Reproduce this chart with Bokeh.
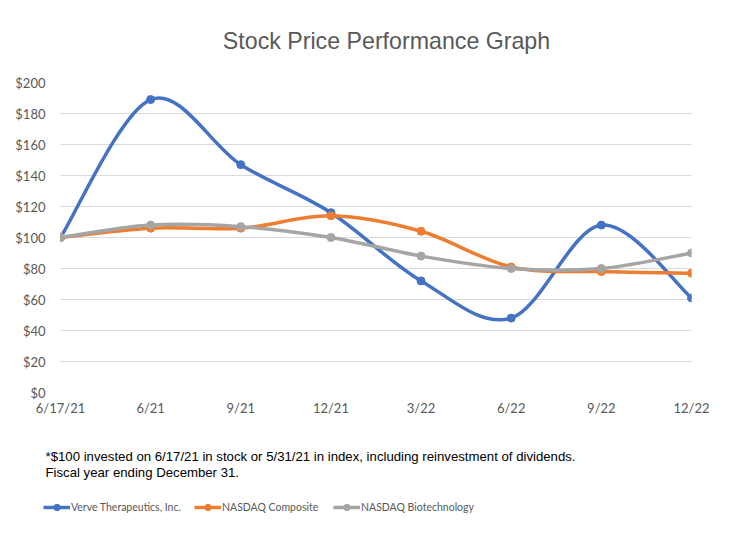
from bokeh.plotting import figure
from bokeh.models import (Range1d, FixedTicker, NumeralTickFormatter, Label,
                          Legend, LegendItem, ColumnDataSource)
from bokeh.embed import file_html
from bokeh.resources import INLINE

dates = ["6/17/21", "6/21", "9/21", "12/21", "3/22", "6/22", "9/22", "12/22"]
verve = [100, 189, 147, 116, 72, 48, 108, 61]
composite = [100, 106, 106, 114, 104, 81, 78, 77]
biotech = [100, 108, 107, 100, 88, 80, 80, 90]

names = ["Verve Therapeutics, Inc.", "NASDAQ Composite", "NASDAQ Biotechnology"]
colors = ["#4472C4", "#ED7D31", "#A5A5A5"]
series = [verve, composite, biotech]

title_text = "Stock Price Performance Graph"
foot_lines = ["*$100 invested on 6/17/21 in stock or 5/31/21 in index, including reinvestment of dividends.",
              "Fiscal year ending December 31."]

GREY = "#595959"
FONT = "Lato"
ARIAL = "Liberation Sans"


def blank(h):
    f = figure(width=713, height=h, output_backend="svg", toolbar_location=None,
               x_range=Range1d(0, 713), y_range=Range1d(h, 0),
               min_border=0, min_border_left=0, min_border_right=0,
               min_border_top=0, min_border_bottom=0)
    f.axis.visible = False
    f.grid.visible = False
    f.outline_line_color = None
    return f


# title panel
t = blank(60)
t.add_layout(Label(x=386, y=40, text=title_text, text_align="center",
                   text_baseline="middle", text_font=ARIAL,
                   text_font_size="23.2px", text_color=GREY))

# chart
p = figure(width=713, height=365, output_backend="svg", toolbar_location=None,
           x_range=Range1d(0, 7), y_range=Range1d(0, 200),
           min_border_left=60, min_border_right=22, min_border_top=22,
           min_border_bottom=33)
p.outline_line_color = None

p.xgrid.grid_line_color = None
p.ygrid.grid_line_color = "#D9D9D9"
p.ygrid.grid_line_width = 1

for ax in (p.xaxis, p.yaxis):
    ax.axis_line_color = None
    ax.major_tick_line_color = None
    ax.minor_tick_line_color = None
    ax.major_label_text_color = GREY
    ax.major_label_text_font = FONT
    ax.major_label_text_font_size = "13px"

xs = list(range(len(dates)))
p.xaxis.ticker = FixedTicker(ticks=xs)
p.xaxis.major_label_overrides = {i: d for i, d in enumerate(dates)}
p.xaxis.major_label_standoff = 1
p.yaxis.ticker = FixedTicker(ticks=list(range(0, 201, 20)))
p.yaxis.formatter = NumeralTickFormatter(format="$0")
p.yaxis.major_label_standoff = 9


def bezier_source(vals):
    n = len(vals)
    pts = list(zip(xs, vals))
    d = dict(x0=[], y0=[], x1=[], y1=[], cx0=[], cy0=[], cx1=[], cy1=[])
    for i in range(n - 1):
        p0 = pts[i - 1] if i > 0 else pts[i]
        p1 = pts[i]
        p2 = pts[i + 1]
        p3 = pts[i + 2] if i + 2 < n else pts[i + 1]
        d["x0"].append(p1[0]); d["y0"].append(p1[1])
        d["x1"].append(p2[0]); d["y1"].append(p2[1])
        d["cx0"].append(p1[0] + (p2[0] - p0[0]) / 6)
        d["cy0"].append(p1[1] + (p2[1] - p0[1]) / 6)
        d["cx1"].append(p2[0] - (p3[0] - p1[0]) / 6)
        d["cy1"].append(p2[1] - (p3[1] - p1[1]) / 6)
    return ColumnDataSource(d)


for name, col, vals in zip(names, colors, series):
    p.bezier(x0="x0", y0="y0", x1="x1", y1="y1", cx0="cx0", cy0="cy0",
             cx1="cx1", cy1="cy1", source=bezier_source(vals),
             line_color=col, line_width=3.5, line_cap="round")
    p.scatter(xs, vals, size=8, fill_color=col, line_color=col)

# bottom panel: footnote and legend
q = blank(115)

nan = float("nan")
legend_x = [43, 194, 333]
for name, col, lx in zip(names, colors, legend_x):
    ln = q.line(x=[nan], y=[nan], line_color=col, line_width=3.5)
    sc = q.scatter(x=[nan], y=[nan], size=7, fill_color=col, line_color=col)
    lg = Legend(items=[LegendItem(label=name, renderers=[ln, sc])],
                location=(lx, 25), padding=0, margin=0, label_standoff=1,
                glyph_width=27, glyph_height=16,
                label_text_font=FONT, label_text_font_size="10.5px",
                label_text_color=GREY, border_line_color=None,
                background_fill_alpha=0)
    q.add_layout(lg, "center")

for line, ly in zip(foot_lines, [31, 47]):
    q.add_layout(Label(x=45, y=ly, text=line, text_align="left",
                       text_baseline="middle", text_font=ARIAL,
                       text_font_size="13.2px", text_color="black"))

open("out.html", "w").write(file_html([t, p, q], INLINE))
